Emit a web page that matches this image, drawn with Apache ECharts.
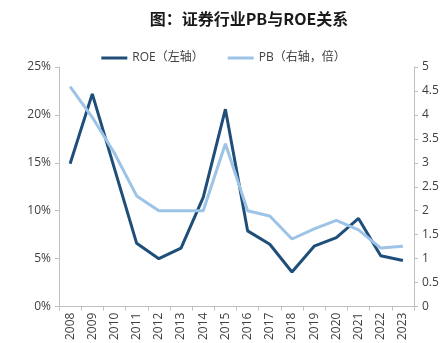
<!DOCTYPE html>
<html><head><meta charset="utf-8">
<script src="https://cdn.jsdelivr.net/npm/echarts@6/dist/echarts.min.js"></script>
<style>html,body{margin:0;padding:0;background:#fff}#c{width:447px;height:343px}</style>
</head><body><div id="c"></div>
<script>
var years = ['2008','2009','2010','2011','2012','2013','2014','2015','2016','2017','2018','2019','2020','2021','2022','2023'];
var roe = [14.9, 22.2, 14.4, 6.6, 5.0, 6.1, 11.4, 20.6, 7.9, 6.5, 3.6, 6.3, 7.2, 9.2, 5.3, 4.8];
var pb = [4.59, 3.95, 3.2, 2.31, 2.0, 2.0, 2.0, 3.4, 2.0, 1.89, 1.41, 1.62, 1.8, 1.6, 1.22, 1.26];
var leftTicks = [0, 5, 10, 15, 20, 25];
var rightTicks = [0, 0.5, 1, 1.5, 2, 2.5, 3, 3.5, 4, 4.5, 5];

var fontF = '"Open Sans","Noto Sans CJK SC",sans-serif';
var chart = echarts.init(document.getElementById('c'));
chart.setOption({
  animation: false,
  title: {
    text: '图：证券行业PB与ROE关系',
    left: 244, top: 6, textAlign: 'center',
    textStyle: {fontFamily: '"Noto Sans CJK SC",sans-serif', fontSize: 16, fontWeight: 'bold', color: '#1a1a1a'}
  },
  legend: {
    top: 47, left: 'center',
    itemWidth: 26, itemHeight: 3, itemGap: 24,
    icon: 'rect',
    textStyle: {fontFamily: fontF, fontSize: 12, color: '#404040'},
    data: ['ROE（左轴）', 'PB（右轴，倍）']
  },
  grid: {left: 59, right: 33, top: 67, bottom: 35, containLabel: false},
  xAxis: {
    type: 'category', data: years, boundaryGap: true,
    axisLine: {lineStyle: {color: '#bfbfbf'}},
    axisTick: {show: true, lineStyle: {color: '#bfbfbf'}, length: 4},
    axisLabel: {rotate: 90, fontFamily: fontF, fontSize: 12, color: '#404040', margin: 6}
  },
  yAxis: [{
    type: 'value', min: 0, max: 25, interval: 5, position: 'left',
    axisLine: {show: true, lineStyle: {color: '#bfbfbf'}},
    axisTick: {show: true, lineStyle: {color: '#bfbfbf'}, length: 4},
    splitLine: {show: false},
    axisLabel: {formatter: '{value}%', fontFamily: fontF, fontSize: 12, color: '#404040', margin: 8}
  }, {
    type: 'value', min: 0, max: 5, interval: 0.5, position: 'right',
    axisLine: {show: true, lineStyle: {color: '#bfbfbf'}},
    axisTick: {show: true, lineStyle: {color: '#bfbfbf'}, length: 4},
    splitLine: {show: false},
    axisLabel: {fontFamily: fontF, fontSize: 12, color: '#404040', margin: 8}
  }],
  series: [{
    name: 'ROE（左轴）', type: 'line', yAxisIndex: 0, data: roe,
    symbol: 'none', lineStyle: {color: '#1f4e79', width: 3}, itemStyle: {color: '#1f4e79'}
  }, {
    name: 'PB（右轴，倍）', type: 'line', yAxisIndex: 1, data: pb,
    symbol: 'none', lineStyle: {color: '#9dc3e6', width: 3}, itemStyle: {color: '#9dc3e6'}
  }]
});
</script>
</body></html>
